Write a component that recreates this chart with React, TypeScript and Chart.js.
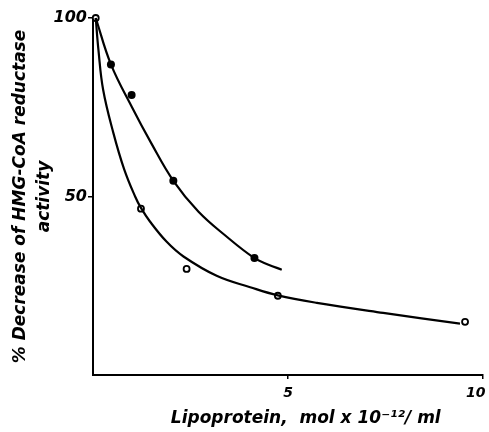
import React, { useEffect, useRef } from "react";
import { Chart, registerables } from "chart.js";

Chart.register(...registerables);

// Measured points (open circles)
const openX = [0.07, 1.23, 2.4, 4.74, 9.54];
const openY = [100, 46.6, 29.7, 22.2, 14.9];
// Measured points (filled circles)
const filledX = [0.46, 0.99, 2.06, 4.14];
const filledY = [87.0, 78.4, 54.4, 32.8];
// Hand-drawn fitted curves
const upperCurveX = [0.07, 0.46, 1.0, 1.5, 2.06, 2.7, 3.4, 4.13, 4.5, 4.84];
const upperCurveY = [100, 87.0, 75.0, 64.8, 54.4, 45.8, 39.0, 32.8, 30.9, 29.5];
const lowerCurveX = [0.07, 0.14, 0.26, 0.52, 0.8, 1.08, 1.23, 1.46, 1.89, 2.32, 3.17, 4.03, 4.74, 5.74, 7.44, 9.41];
const lowerCurveY = [100, 91.0, 79.9, 67.9, 57.6, 50.0, 46.8, 43.0, 37.3, 33.2, 27.8, 24.6, 22.3, 20.2, 17.4, 14.4];
// Axis ticks
const xTickValues = [5, 10];
const xTickLabels = ["5", "10   "];
const yTickValues = [50, 100];
const xTitle = "      Lipoprotein,  mol x 10\u207B\u00B9\u00B2/ ml";
const yTitle = ["% Decrease of HMG-CoA reductase", "activity"];

const FAMILY = "'DejaVu Sans', sans-serif";

const zip = (xs: number[], ys: number[]) => xs.map((x, i) => ({ x, y: ys[i] }));

export default function App() {
  const ref = useRef<HTMLCanvasElement | null>(null);
  useEffect(() => {
    document.body.style.margin = "0";
    const canvas = ref.current;
    if (!canvas) return;
    const curve = (xs: number[], ys: number[]) =>
      ({
        type: "line",
        data: zip(xs, ys),
        borderColor: "#000",
        borderWidth: 2.2,
        pointRadius: 0,
        tension: 0.4,
        fill: false,
      } as any);
    const chart = new Chart(canvas, {
      type: "scatter",
      data: {
        datasets: [
          curve(upperCurveX, upperCurveY),
          curve(lowerCurveX, lowerCurveY),
          {
            data: zip(openX, openY),
            pointRadius: 3,
            pointBorderWidth: 1.8,
            pointBackgroundColor: "#fff",
            pointBorderColor: "#000",
          },
          {
            data: zip(filledX, filledY),
            pointRadius: 4,
            pointBorderWidth: 0,
            pointBackgroundColor: "#000",
            pointBorderColor: "#000",
          },
        ],
      },
      options: {
        animation: false,
        responsive: true,
        maintainAspectRatio: false,
        clip: false as any,
        layout: { padding: { top: 18, right: 6, left: 0, bottom: 0 } },
        plugins: { legend: { display: false }, tooltip: { enabled: false } },
        scales: {
          x: {
            type: "linear",
            min: 0,
            max: 10,
            afterBuildTicks: (s: any) => {
              s.ticks = xTickValues.map((v) => ({ value: v }));
            },
            afterFit: (s: any) => {
              s.height = 57;
              s.paddingLeft = 0;
              s.paddingRight = 0;
            },
            border: { display: true, color: "#000", width: 2 },
            grid: { drawOnChartArea: false, drawTicks: true, tickLength: 4, color: "#000", lineWidth: 1.5 },
            ticks: {
              color: "#000",
              padding: 6,
              maxRotation: 0,
              callback: (_v: any, i: number) => xTickLabels[i],
              font: { family: FAMILY, size: 14, style: "italic", weight: "bold" },
            },
            title: {
              display: true,
              text: xTitle,
              color: "#000",
              padding: { top: 0, bottom: 3 },
              font: { family: FAMILY, size: 17, style: "italic", weight: "bold", lineHeight: 1.2 },
            },
          },
          y: {
            type: "linear",
            min: 0,
            max: 100,
            afterBuildTicks: (s: any) => {
              s.ticks = yTickValues.map((v) => ({ value: v }));
            },
            afterFit: (s: any) => {
              s.width = 93;
              s.paddingTop = 0;
              s.paddingBottom = 0;
            },
            border: { display: true, color: "#000", width: 2 },
            grid: { drawOnChartArea: false, drawTicks: true, tickLength: 5, color: "#000", lineWidth: 1.5 },
            ticks: {
              color: "#000",
              padding: 1,
              font: { family: FAMILY, size: 16, style: "italic", weight: "bold" },
            },
            title: {
              display: true,
              text: yTitle,
              color: "#000",
              padding: { top: 9, bottom: 0 },
              font: { family: FAMILY, size: 17, style: "italic", weight: "bold", lineHeight: "24px" as any },
            },
          },
        },
      },
    });
    return () => chart.destroy();
  }, []);
  return (
    <div style={{ position: "relative", width: 489, height: 432, background: "#fff" }}>
      <canvas ref={ref} />
    </div>
  );
}
